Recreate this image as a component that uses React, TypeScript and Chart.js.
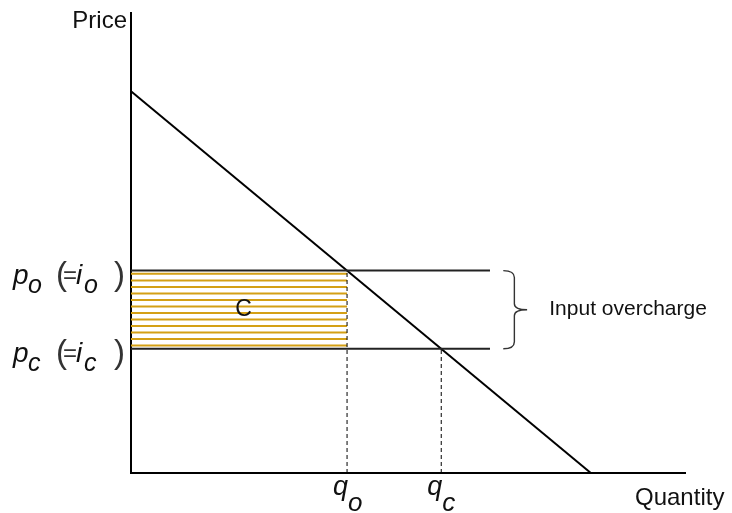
import React, { useEffect, useRef } from "react";
import { Chart, registerables } from "chart.js";

Chart.register(...registerables);

// ---- data ----
const demandPoints = [
  { x: 0, y: 8.3 },
  { x: 8.3, y: 0 },
];
const priceLevels = [4.4, 2.7]; // p_o (=i_o), p_c (=i_c)
const quantityLevels = [3.9, 5.6]; // q_o, q_c
const priceLineEnd = 6.48;
const priceSubs = ["o", "c"];
const quantitySubs = ["o", "c"];
const axisTitles = ["Price", "Quantity"];
const areaLabel = "C";
const bracketLabel = "Input overcharge";
const stripeCount = 12;

const FONT = "'Liberation Sans', Arial, Helvetica, sans-serif";

export default function App() {
  const ref = useRef<HTMLCanvasElement | null>(null);

  useEffect(() => {
    const canvas = ref.current;
    if (!canvas) return;
    const [pO, pC] = priceLevels;
    const [qO, qC] = quantityLevels;

    const overlay = {
      id: "overlay",
      beforeDatasetsDraw(chart: any) {
        const { ctx } = chart;
        const xs = chart.scales.x;
        const ys = chart.scales.y;
        const x0 = xs.getPixelForValue(0);
        const x1 = xs.getPixelForValue(qO);
        const yT = ys.getPixelForValue(pO);
        const yB = ys.getPixelForValue(pC);
        const h = (yB - yT) / stripeCount;
        ctx.save();
        ctx.strokeStyle = "#D4A015";
        ctx.lineWidth = 2;
        for (let k = 0; k < stripeCount; k++) {
          const y = yT + (k + 0.5) * h;
          ctx.beginPath();
          ctx.moveTo(x0, y);
          ctx.lineTo(x1, y);
          ctx.stroke();
        }
        ctx.restore();
      },
      afterDraw(chart: any) {
        const { ctx, chartArea } = chart;
        const xs = chart.scales.x;
        const ys = chart.scales.y;
        const L = chartArea.left;
        ctx.save();
        ctx.fillStyle = "#111";
        ctx.textAlign = "left";
        ctx.textBaseline = "alphabetic";

        // axis titles
        ctx.font = `24px ${FONT}`;
        ctx.textAlign = "right";
        ctx.fillText(axisTitles[0], L - 4, chartArea.top + 15);
        ctx.textAlign = "left";
        ctx.fillText(axisTitles[1], chartArea.right - 50, chartArea.bottom + 32);

        // price labels
        priceLevels.forEach((p, i) => {
          const y = ys.getPixelForValue(p);
          const s = priceSubs[i];
          ctx.textAlign = "left";
          ctx.font = `italic 28px ${FONT}`;
          ctx.fillText("p", L - 118, y + 13);
          ctx.font = `italic 25px ${FONT}`;
          ctx.fillText(s, L - 103, y + 22);
          ctx.font = `33px ${FONT}`;
          ctx.fillStyle = "#333";
          ctx.fillText("(", L - 75, y + 14);
          ctx.font = `24px ${FONT}`;
          ctx.fillText("=", L - 68, y + 12);
          ctx.fillStyle = "#111";
          ctx.font = `italic 28px ${FONT}`;
          ctx.fillText("i", L - 55, y + 13);
          ctx.font = `italic 25px ${FONT}`;
          ctx.fillText(s, L - 47, y + 22);
          ctx.fillStyle = "#333";
          ctx.font = `33px ${FONT}`;
          ctx.fillText(")", L - 17, y + 14);
          ctx.fillStyle = "#111";
        });

        // quantity labels
        quantityLevels.forEach((q, i) => {
          const x = xs.getPixelForValue(q);
          ctx.textAlign = "right";
          ctx.font = `italic 27px ${FONT}`;
          ctx.fillText("q", x + 1, chartArea.bottom + 22);
          ctx.textAlign = "left";
          ctx.font = `italic 26px ${FONT}`;
          ctx.fillText(quantitySubs[i], x + 1, chartArea.bottom + 38);
        });

        // area label
        ctx.textAlign = "center";
        ctx.textBaseline = "middle";
        ctx.font = `23px ${FONT}`;
        ctx.fillText(
          areaLabel,
          xs.getPixelForValue(qO / 2 + 0.08),
          ys.getPixelForValue((pO + pC) / 2)
        );

        // bracket
        const yT = ys.getPixelForValue(pO);
        const yB = ys.getPixelForValue(pC);
        const ym = (yT + yB) / 2;
        const bx0 = xs.getPixelForValue(6.72);
        const bx1 = xs.getPixelForValue(6.92);
        const bx2 = xs.getPixelForValue(7.15);
        ctx.strokeStyle = "#333";
        ctx.lineWidth = 1.4;
        ctx.beginPath();
        ctx.moveTo(bx0, yT);
        ctx.quadraticCurveTo(bx1, yT, bx1, yT + 7);
        ctx.lineTo(bx1, ym - 6);
        ctx.quadraticCurveTo(bx1, ym, bx2, ym);
        ctx.moveTo(bx0, yB);
        ctx.quadraticCurveTo(bx1, yB, bx1, yB - 7);
        ctx.lineTo(bx1, ym + 6);
        ctx.quadraticCurveTo(bx1, ym, bx2, ym);
        ctx.stroke();

        ctx.textAlign = "left";
        ctx.textBaseline = "middle";
        ctx.font = `21px ${FONT}`;
        ctx.fillText(bracketLabel, xs.getPixelForValue(7.55), ym);
        ctx.restore();
      },
    };

    const lineDs = (data: any[], color: string, width: number, dash: number[] = []) => ({
      data,
      showLine: true,
      borderColor: color,
      backgroundColor: color,
      borderWidth: width,
      borderDash: dash,
      pointRadius: 0,
      pointHoverRadius: 0,
      fill: false,
      tension: 0,
      clip: false as any,
    });

    const chart = new Chart(canvas, {
      type: "scatter",
      data: {
        datasets: [
          lineDs([{ x: 0, y: pO }, { x: priceLineEnd, y: pO }], "#222", 2),
          lineDs([{ x: 0, y: pC }, { x: priceLineEnd, y: pC }], "#222", 2),
          lineDs([{ x: qO, y: 0 }, { x: qO, y: pO }], "#000", 1, [4, 3]),
          lineDs([{ x: qC, y: 0 }, { x: qC, y: pC }], "#000", 1, [4, 3]),
          lineDs(demandPoints, "#000", 2),
        ],
      },
      options: {
        animation: false,
        responsive: false,
        maintainAspectRatio: false,
        devicePixelRatio: 1,
        events: [],
        layout: { padding: { left: 131, right: 47, top: 13, bottom: 40 } },
        plugins: {
          legend: { display: false },
          tooltip: { enabled: false },
          title: { display: false },
        },
        scales: {
          x: {
            type: "linear",
            min: 0,
            max: 10,
            grid: { display: false, drawTicks: false },
            ticks: { display: false },
            border: { display: true, color: "#000", width: 2 },
            afterFit: (s: any) => {
              s.height = 0;
            },
          },
          y: {
            type: "linear",
            min: 0,
            max: 10,
            grid: { display: false, drawTicks: false },
            ticks: { display: false },
            border: { display: true, color: "#000", width: 2 },
            afterFit: (s: any) => {
              s.width = 0;
            },
          },
        },
      },
      plugins: [overlay],
    });
    return () => chart.destroy();
  }, []);

  return (
    <div
      style={{
        position: "fixed",
        left: 0,
        top: 0,
        width: 732,
        height: 513,
        background: "#fff",
      }}
    >
      <canvas ref={ref} width={732} height={513} style={{ width: 732, height: 513, display: "block" }} />
    </div>
  );
}
